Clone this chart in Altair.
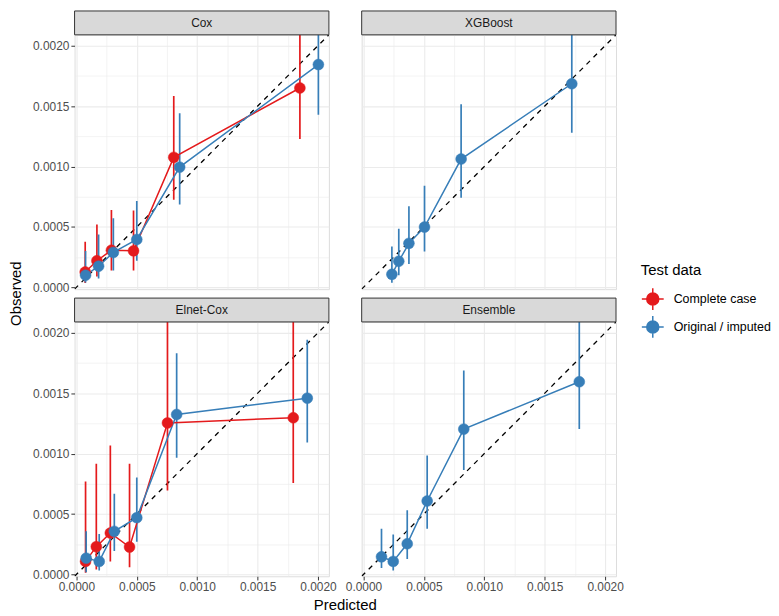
import altair as alt
import pandas as pd

FONT = "Liberation Sans"
GROUPS = ["Complete case", "Original / imputed"]
COLORS = ["#E41A1C", "#377EB8"]

# ---- Cox ----
cox_cc_pred = [0.000073, 0.000170, 0.000290, 0.000473, 0.000806, 0.001850]
cox_cc_obs = [0.000127, 0.000220, 0.000307, 0.000302, 0.001076, 0.001650]
cox_cc_lo = [0.000035, 0.000090, 0.000140, 0.000140, 0.000725, 0.001227]
cox_cc_hi = [0.000378, 0.000520, 0.000640, 0.000636, 0.001583, 0.002400]
cox_oi_pred = [0.000076, 0.000184, 0.000306, 0.000500, 0.000855, 0.002003]
cox_oi_obs = [0.000100, 0.000175, 0.000289, 0.000396, 0.000995, 0.001844]
cox_oi_lo = [0.000040, 0.000073, 0.000140, 0.000220, 0.000685, 0.001429]
cox_oi_hi = [0.000300, 0.000437, 0.000572, 0.000714, 0.001440, 0.002400]

# ---- XGBoost ----
xgb_oi_pred = [0.000235, 0.000292, 0.000376, 0.000505, 0.000808, 0.001724]
xgb_oi_obs = [0.000108, 0.000216, 0.000364, 0.000499, 0.001062, 0.001685]
xgb_oi_lo = [0.000038, 0.000100, 0.000194, 0.000296, 0.000741, 0.001280]
xgb_oi_hi = [0.000337, 0.000485, 0.000671, 0.000841, 0.001515, 0.002400]

# ---- Elnet-Cox ----
eln_cc_pred = [0.000076, 0.000165, 0.000281, 0.000440, 0.000754, 0.001795]
eln_cc_obs = [0.000108, 0.000230, 0.000343, 0.000227, 0.001254, 0.001297]
eln_cc_lo = [0.000014, 0.000040, 0.000108, 0.000060, 0.000695, 0.000757]
eln_cc_hi = [0.000770, 0.000916, 0.001068, 0.000916, 0.002400, 0.002400]
eln_oi_pred = [0.000081, 0.000189, 0.000314, 0.000500, 0.000830, 0.001911]
eln_oi_obs = [0.000135, 0.000108, 0.000357, 0.000470, 0.001324, 0.001459]
eln_oi_lo = [0.000019, 0.000032, 0.000195, 0.000270, 0.000965, 0.001092]
eln_oi_hi = [0.000357, 0.000335, 0.000668, 0.000803, 0.001830, 0.001943]

# ---- Ensemble ----
ens_oi_pred = [0.000149, 0.000246, 0.000362, 0.000527, 0.000830, 0.001786]
ens_oi_obs = [0.000146, 0.000108, 0.000254, 0.000608, 0.001203, 0.001595]
ens_oi_lo = [0.000054, 0.000032, 0.000127, 0.000378, 0.000865, 0.001203]
ens_oi_hi = [0.000378, 0.000330, 0.000532, 0.000984, 0.001689, 0.002400]

AXIS_LIMITS = [-0.000015, 0.00209]
TICK_VALUES = [0.0, 0.00025, 0.0005, 0.00075, 0.001, 0.00125, 0.0015, 0.00175, 0.002]


def frame(model, group, pred, obs, lo, hi):
    return pd.DataFrame({"model": model, "group": group, "pred": pred,
                         "obs": obs, "lo": lo, "hi": hi})


data = pd.concat([
    frame("Cox", GROUPS[0], cox_cc_pred, cox_cc_obs, cox_cc_lo, cox_cc_hi),
    frame("Cox", GROUPS[1], cox_oi_pred, cox_oi_obs, cox_oi_lo, cox_oi_hi),
    frame("XGBoost", GROUPS[1], xgb_oi_pred, xgb_oi_obs, xgb_oi_lo, xgb_oi_hi),
    frame("Elnet-Cox", GROUPS[0], eln_cc_pred, eln_cc_obs, eln_cc_lo, eln_cc_hi),
    frame("Elnet-Cox", GROUPS[1], eln_oi_pred, eln_oi_obs, eln_oi_lo, eln_oi_hi),
    frame("Ensemble", GROUPS[1], ens_oi_pred, ens_oi_obs, ens_oi_lo, ens_oi_hi),
], ignore_index=True)

diag = pd.DataFrame({"p": AXIS_LIMITS, "o": AXIS_LIMITS})

W, H, SH = 256, 256, 24
GAP_X, GAP_Y = 33, 9
MAJOR = "abs(datum.value*2000 - round(datum.value*2000)) < 0.001"

SYMBOL = ("M-1,0H1M0,-1V1M-0.55,0A0.55,0.55,0,1,0,0.55,0"
          "A0.55,0.55,0,1,0,-0.55,0Z")
legend = alt.Legend(title="Test data", symbolType=SYMBOL, symbolSize=484,
                    symbolStrokeWidth=1.5, orient="none", legendX=570,
                    legendY=230, rowPadding=0, labelOffset=9,
                    titleFontSize=15, titleFontWeight="normal",
                    titleColor="black", labelFontSize=12.5,
                    labelColor="black", titleFont=FONT, labelFont=FONT,
                    titlePadding=9)
cscale = alt.Scale(domain=GROUPS, range=COLORS)


def axis(show):
    common = dict(values=TICK_VALUES, grid=True, gridColor="#EBEBEB",
                  gridWidth={"condition": {"test": MAJOR, "value": 1.1}, "value": 0.6},
                  domain=False, title=None)
    if not show:
        return alt.Axis(labels=False, ticks=False, **common)
    return alt.Axis(labels=True, ticks=True, tickColor="#333333",
                    tickSize=3.7, tickWidth=1,
                    tickOpacity={"condition": {"test": MAJOR, "value": 1}, "value": 0},
                    labelExpr=f"{MAJOR} ? format(datum.value, '.4f') : ''",
                    labelFont=FONT, labelFontSize=12, labelColor="#4D4D4D",
                    labelPadding=2, labelFlush=False, labelOverlap=False,
                    **common)


def panel(model, show_x, show_y, axis_titles=False):
    xs = alt.Scale(domain=AXIS_LIMITS, nice=False, zero=False)
    ys = alt.Scale(domain=AXIS_LIMITS, nice=False, zero=False)
    d = data[data["model"] == model]

    def X(f):
        return alt.X(f, type="quantitative", scale=xs, axis=axis(show_x))

    def Y(f):
        return alt.Y(f, type="quantitative", scale=ys, axis=axis(show_y))

    stroke = alt.Stroke("group:N", scale=cscale, legend=legend)
    fill = alt.Fill("group:N", scale=cscale, legend=legend)

    ref = alt.Chart(diag).mark_line(color="black", strokeDash=[5, 5],
                                    strokeWidth=1.3, clip=True).encode(
        x=X("p"), y=Y("o"))
    err = alt.Chart(d).mark_rule(strokeWidth=1.7, clip=True).encode(
        x=X("pred"), y=Y("lo"), y2="hi:Q", stroke=stroke)
    line = alt.Chart(d).mark_line(strokeWidth=1.5, clip=True).encode(
        x=X("pred"), y=Y("obs"), stroke=stroke)
    pts = alt.Chart(d).mark_point(filled=True, size=120, opacity=1,
                                  strokeWidth=0.5, clip=True).encode(
        x=X("pred"), y=Y("obs"), fill=fill, stroke=stroke)

    lab = pd.DataFrame({"m": [model]})
    strip_bg = alt.Chart(lab).mark_rect(fill="#D9D9D9", stroke="#333333",
                                        strokeWidth=1).encode(
        x=alt.value(0), x2=alt.value(W), y=alt.value(-SH), y2=alt.value(0))
    strip_tx = alt.Chart(lab).mark_text(font=FONT, fontSize=12,
                                        color="#1A1A1A").encode(
        text="m:N", x=alt.value(W / 2), y=alt.value(-SH / 2 + 0.5))
    layers = [ref, err, line, pts, strip_bg, strip_tx]

    if axis_titles:
        tt = pd.DataFrame({"t": ["Observed"]})
        ytitle = alt.Chart(tt).mark_text(font=FONT, fontSize=15, color="black",
                                         angle=270, baseline="middle").encode(
            text="t:N", x=alt.value(-59),
            y=alt.value((H - (2 * SH + H + GAP_Y)) / 2))
        xt = pd.DataFrame({"t": ["Predicted"]})
        xtitle = alt.Chart(xt).mark_text(font=FONT, fontSize=15, color="black",
                                         baseline="alphabetic").encode(
            text="t:N", x=alt.value(W + GAP_X / 2), y=alt.value(H + 34))
        layers += [ytitle, xtitle]
    return alt.layer(*layers).properties(width=W, height=H)


chart = alt.concat(
    panel("Cox", False, True),
    panel("XGBoost", False, False),
    panel("Elnet-Cox", True, True, axis_titles=True),
    panel("Ensemble", True, False),
    columns=2, spacing={"row": GAP_Y + SH, "column": GAP_X}, bounds="flush",
).properties(padding=0).configure_view(stroke="#333333", strokeWidth=1).configure(
    background="white")

chart.save("out.html", embed_options={"renderer": "svg", "actions": False})
